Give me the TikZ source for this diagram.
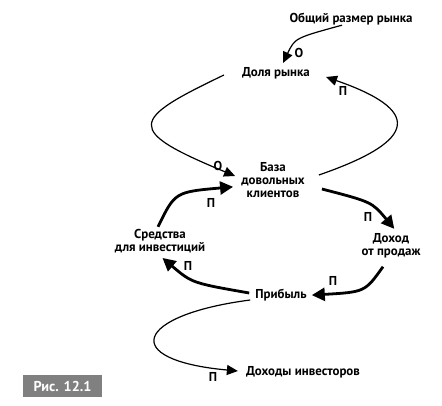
\documentclass[tikz,border=0pt]{standalone}
\usepackage{fontspec}
\setmainfont{PT Sans}
\usetikzlibrary{arrows.meta}
\newlength\mytw
\newlength\mycw
\tikzset{
  lbl/.style={font=\bfseries\fontsize{\myfs}{13.4}\selectfont, inner sep=0pt, align=center},
  sgn/.style={font=\bfseries\fontsize{\myfs}{11}\selectfont, inner sep=0pt},
  thin/.style={line width=1.2pt, -{Triangle[length=11pt,width=10pt]}},
  thick/.style={line width=2.8pt, -{Triangle[length=13pt,width=13pt]}, shorten >=-2pt},
}
\begin{document}
\settowidth\mytw{\bfseries\fontsize{10}{12}\selectfont Общий размер рынка}%
\settowidth\mycw{\bfseries\fontsize{10}{12}\selectfont Рис. 12.1}%
\pgfmathsetmacro\myfs{10*123/\mytw}%
\pgfmathsetmacro\mycfs{10*58/\mycw}%
\begin{tikzpicture}[x=1pt,y=-1pt]
\useasboundingbox (0,0) rectangle (442,406);
\node[lbl] (total) at (351,19) {Общий размер рынка};
\node[lbl] (share) at (276,73) {Доля рынка};
\node[lbl] (base) at (273,180) {База\\довольных\\клиентов};
\node[lbl] (revenue) at (391,246) {Доход\\от продаж};
\node[lbl] (profit) at (281,295) {Прибыль};
\node[lbl] (invest) at (160,241) {Средства\\для инвестиций};
\node[lbl] (investors) at (303,372) {Доходы инвесторов};
\node[fill={rgb,255:red,128;green,128;blue,128}, minimum width=79pt, minimum height=22pt, inner sep=0pt] (fig) at (62.5,386) {};
\node[font=\bfseries\fontsize{\mycfs}{14}\selectfont, text=white, inner sep=0pt] (figtxt) at (fig.center) {Рис. 12.1};

% connectors
\draw[thin] ([xshift=-9pt]total.south) .. controls (295,38) .. ([xshift=7pt,yshift=4pt]share.north);
\draw[thin] ([xshift=-18pt,yshift=-2pt]share.west) .. controls (130,120) and (124,130) .. ([xshift=-6pt,yshift=4pt]base.west);
\draw[thin] ([xshift=14pt,yshift=5pt]base.east) .. controls (420,140) and (421,110) .. ([xshift=16pt,yshift=-4pt]share.east);
\draw[thick] ([xshift=17pt,yshift=-9pt]base.east) .. controls (372,202) .. ([xshift=2pt,yshift=6pt]revenue.north);
\draw[thick] ([xshift=-8pt,yshift=-8pt]revenue.south) .. controls (365,292) .. ([xshift=7pt]profit.east);
\draw[thick] ([xshift=-6pt,yshift=2pt]profit.west) .. controls (192,283) .. ([xshift=4pt,yshift=-6pt]invest.south);
\draw[thick] ([xshift=-2pt,yshift=2pt]invest.north) .. controls (175,192) .. ([xshift=-10pt,yshift=-7pt]base.west);
\draw[thin] ([xshift=-5pt,yshift=-5pt]profit.west) .. controls (135,315) and (118,360) .. ([xshift=-8pt,yshift=1pt]investors.west);

% signs
\node[sgn] (s1) at (299,53) {О};
\node[sgn] (s2) at (343,91) {П};
\node[sgn] (s3) at (218,166) {О};
\node[sgn] (s4) at (368,217) {П};
\node[sgn] (s5) at (333,281) {П};
\node[sgn] (s6) at (188,266) {П};
\node[sgn] (s7) at (211,203) {П};
\node[sgn] (s8) at (213,377) {П};
\end{tikzpicture}
\end{document}
